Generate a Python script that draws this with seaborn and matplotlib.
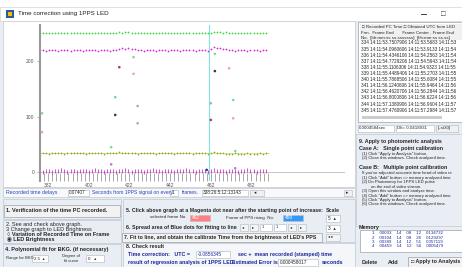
import numpy as np
import pandas as pd
import seaborn as sns
import matplotlib.pyplot as plt
from matplotlib.patches import Rectangle
from matplotlib.ticker import FixedLocator

W, H = 462, 267

# frame numbers along the video stream (one dot every 1.5 frames)
frames = np.arange(378, 490.5, 1.5)

green_row = [251, 251, 250, 251, 251, 250, 251, 251, 251, 250, 251, 251, 250, 251, 251,
             251, 250, 251, 251, 250, 251, 251, 251, 250, 251, 251, 252, 251, 253, 252,
             251, 250, 251, 251, 250, 251, 251, 250, 251, 251, 251, 250, 251, 251, 251,
             250, 251, 251, 250, 251, 251, 251, 250, 251, 251, 250, 251, 252, 253, 252,
             251, 252, 251, 250, 251, 251, 250, 251, 251, 251, 250, 251, 251, 250, 251]
magenta_row = [220, 220, 219, 220, 220, 220, 219, 220, 220, 220, 219, 220, 220, 220, 219,
               220, 220, 220, 220, 219, 220, 220, 220, 219, 220, 220, 221, 223, 222, 224,
               222, 221, 220, 220, 219, 220, 220, 220, 219, 220, 220, 220, 219, 220, 220,
               220, 219, 220, 220, 220, 220, 219, 220, 220, 220, 219, 222, 225, 223, 224,
               221, 222, 220, 220, 219, 220, 220, 220, 219, 220, 220, 220, 219, 220, 220]
yellow_row = [34, 35, 34, 33, 34, 35, 34, 34, 33, 34, 35, 34, 34, 35, 34,
              33, 34, 34, 35, 34, 34, 33, 34, 35, 34, 34, 36, 35, 34, 34,
              35, 34, 33, 34, 34, 35, 34, 34, 33, 34, 34, 35, 34, 34, 33,
              34, 35, 34, 34, 34, 33, 34, 35, 34, 34, 33, 35, 36, 34, 35,
              34, 33, 32, 33, 34, 33, 32, 33, 34, 33, 32, 33, 34, 33, 34]
bottom_row = [2, 1, 2, 2, 1, 2, 2, 3, 2, 1, 2, 2, 1, 2, 2,
              2, 1, 2, 3, 2, 2, 1, 2, 2, 2, 1, 2, 2, 3, 2,
              1, 2, 2, 2, 1, 2, 2, 3, 2, 2, 1, 2, 2, 2, 1,
              2, 2, 2, 3, 2, 2, 1, 2, 2, 2, 1, 2, 3, 2, 2,
              2, 1, 2, 2, 2, 1, 2, 2, 3, 2, 2, 1, 2, 2, 2]

# scattered points away from the rows
out_frame = [379, 379, 415, 415, 413, 413, 417, 424, 424, 426, 426,
             464, 464, 471, 462, 462, 473, 473, 474, 474, 460]
out_value = [106, 72, 135, 103, 45, 14, 189, 207, 177, 119, 88,
             213, 182, 187, 124, 94, 130, 97, 38, 7, 4]
out_kind = ["green", "pink", "teal", "dark", "green", "purple", "magenta", "green", "pink",
            "gray", "gray", "green", "dark", "pink", "gray", "magenta", "green", "pink",
            "green", "purple", "blue"]
kind_colors = {"green": "#86d886", "pink": "#f29ac0", "teal": "#6fcfb0", "dark": "#3b2d5e",
               "purple": "#b77ad6", "magenta": "#b8306e", "gray": "#aaaaaa", "blue": "#2233bb"}

selected_frame_line = 461
x_tick_labels = [382, 402, 422, 442, 462, 482]
y_tick_labels = [0, 100, 200]

table_rows = [
    "334 14:11:53.7507906 14:11:53.5683 14:11:53",
    "335 14:11:54.0960606 14:11:53.9133 14:11:54",
    "336 14:11:54.4346106 14:11:54.2563 14:11:54",
    "337 14:11:54.7729206 14:11:54.5943 14:11:54",
    "338 14:11:55.1106306 14:11:54.9323 14:11:55",
    "339 14:11:55.4489406 14:11:55.2703 14:11:55",
    "340 14:11:55.7868506 14:11:55.6084 14:11:55",
    "341 14:11:56.1240606 14:11:55.9464 14:11:56",
    "342 14:11:56.4620706 14:11:56.2844 14:11:56",
    "343 14:11:56.8000806 14:11:56.6224 14:11:56",
    "344 14:11:57.1380906 14:11:56.9604 14:11:57",
    "345 14:11:57.4760906 14:11:57.2984 14:11:57",
]
memory_rows = [
    "1    00033    14    08    12    0134732",
    "2    00104    14    08    26    0129297",
    "3    00389    14    12    51    0057119",
    "4    00459    14    12    56    0005479",
]

sns.set_style("white")
plt.rcParams["font.family"] = ["Liberation Sans", "DejaVu Sans"]

fig = plt.figure(figsize=(W / 100, H / 100), dpi=100)
fig.patch.set_facecolor("#e9eef5")


def box(x, y, w, h, fc, ec="#b9c2cc", lw=0.5):
    fig.patches.append(Rectangle((x / W, 1 - (y + h) / H), w / W, h / H, zorder=0.5,
                                 transform=fig.transFigure, fc=fc, ec=ec, lw=lw))


def txt(x, y, s, size=3.8, **kw):
    fig.text(x / W, 1 - y / H, s, fontsize=size, va="center", ha="left", **kw)


# page strip above the window and title bar
box(0, 0, W, 7, "#ffffff", ec="none")
box(0, 7, W, 14, "#ffffff", ec="#d8d8d8")
box(6, 10, 8, 8, "#2c5aa0", ec="none")
box(8, 12, 4, 4, "#f2c200", ec="none")
txt(18, 14, "Time correction using 1PPS LED", size=4.5, color="#222222")
box(421, 14, 6, 0.8, "#444444", ec="none")
txt(441, 14, "\u25a1", size=5.5, color="#333333")

# graph panel
box(3, 21, 352, 166, "#ffffff", ec="#c8c8c8")

ax = fig.add_axes([40 / W, 1 - 181 / H, 305 / W, 156 / H])
ax.set_zorder(2)
ax.set_facecolor("none")

sns.scatterplot(x=frames, y=green_row, marker="+", s=3, linewidth=0.5, color="#33dd33", ax=ax)
sns.scatterplot(x=frames, y=magenta_row, marker="+", s=3, linewidth=0.5, color="#dd22dd", ax=ax)
sns.scatterplot(x=frames, y=yellow_row, marker="+", s=3, linewidth=0.5, color="#88aa10", ax=ax)
sns.scatterplot(x=frames, y=bottom_row, marker="|", s=6, linewidth=0.6, color="#cc33cc", ax=ax)

out_df = pd.DataFrame({"frame": out_frame, "value": out_value, "kind": out_kind})
sns.scatterplot(data=out_df, x="frame", y="value", hue="kind", palette=kind_colors,
                s=3.5, linewidth=0, legend=False, ax=ax)
ax.axvline(selected_frame_line, color="#7fe3e0", lw=0.8, zorder=0)
ax.axhline(0, color="#bbbbbb", lw=0.6, zorder=0)
ax.axhline(34, xmin=0, xmax=0.75, color="#d9d98a", lw=0.5, zorder=0)

ax.set_xlabel("")
ax.set_ylabel("")
ax.set_xlim(378, 528)
ax.set_ylim(-16, 265)
for side in ["top", "right", "bottom"]:
    ax.spines[side].set_visible(False)
ax.spines["left"].set_color("#999999")
ax.spines["left"].set_linewidth(1.5)
ax.set_xticks(x_tick_labels)
ax.set_xticklabels([str(v) for v in x_tick_labels])
ax.xaxis.set_minor_locator(FixedLocator(np.arange(378, 491, 2)))
ax.tick_params(axis="x", which="both", direction="in", length=6, width=0.5,
               color="#888888", labelsize=3.6, labelcolor="#555555", bottom=True)
ax.tick_params(axis="x", which="major", pad=1.5)
ax.set_yticks(y_tick_labels)
ax.tick_params(axis="y", direction="out", length=2, width=0.5, color="#888888",
               labelsize=3.6, labelcolor="#555555", pad=2, left=True)

# scroll bar below graph
box(3, 188, 352, 9, "#f7f9fc", ec="#c8c8c8")
txt(6, 192.5, "Recorded time delays", color="#2244bb")
box(68, 189.5, 21, 6, "#ffffff")
txt(69, 192.5, "0.07407", size=3.3)
txt(92, 192.5, "Seconds from 1PPS signal on every", size=3.6, color="#2244bb")
box(170, 189.5, 8, 6, "#ffffff")
txt(172, 192.5, "1", size=3.3)
txt(182, 192.5, "frames.", size=3.6, color="#2244bb")
box(202, 189.5, 46, 6, "#ffffff")
txt(203, 192.5, "338:26:5:12:13143", size=3.3)
box(250, 189.5, 14, 6, "#f0f0f0")
txt(254, 192.5, "\u25c2", size=3.3)
box(344, 189.5, 8, 6, "#f0f0f0")
txt(346, 192.5, "\u25b8", size=3.3)

# left control panel
box(3, 199, 118, 20, "#e9eef5", ec="#c0c8d0")
box(4, 205, 116, 12, "#f2f2f2", ec="#9aa3ad")
txt(6, 211, "1. Verification of the time PC recorded.", size=4.0, weight="bold")
box(3, 220, 118, 23, "#e9eef5", ec="#c0c8d0")
txt(6, 224.5, "2. See and check above graph.", size=4.0)
txt(6, 229.5, "3 Change graph to LED Brightness", size=4.0)
txt(7, 234.5, "\u25cb Variation of Recorded Time on Frame", size=4.0, weight="bold")
txt(7, 239.5, "\u25c9 LED Brightness", size=4.0, weight="bold")
box(3, 244, 118, 23, "#e9eef5", ec="#c0c8d0")
txt(5, 249.5, "4. Polynomial fit for BKG. (if necessary)", size=4.0, weight="bold")
txt(6, 258.5, "Range for BKG", size=3.0)
box(32, 255, 16, 7, "#ffffff")
txt(34, 258.5, "2.5  \u25b4", size=3.2)
txt(62, 256, "Degree of", size=3.0)
txt(64, 261, "fit curve", size=3.0)
box(86, 255, 18, 7, "#ffffff")
txt(88, 258.5, "0   \u25b4", size=3.2)

# middle control panel
box(123, 199, 232, 43, "#e9eef5", ec="#c0c8d0")
txt(126, 210.5, "5. Click above graph at a Magenta dot near after the starting point of increase:",
    size=3.8, weight="bold")
txt(326, 210.5, "Scale", size=3.8, weight="bold")
txt(150, 217.5, "selected frame No.", size=3.2)
box(190, 214.5, 20, 6.5, "#ff8080", ec="#c0c0c0")
txt(192, 217.8, "462", size=3.4, color="#ffffff")
txt(226, 217.5, "Frame of PPS rising  No.", size=3.2)
box(283, 214.5, 20, 6.5, "#3399ff", ec="#c0c0c0")
txt(285, 217.8, "459", size=3.4, color="#ffffff")
box(326, 215, 14, 7, "#ffffff")
txt(328, 218.5, "5  \u25b4", size=3.4)
txt(126, 227, "6. Spread area of Blue dots for fitting to line", size=3.8, weight="bold")
box(240, 224, 8, 6.5, "#f4f4f4")
txt(242, 227.3, "\u25c2", size=3)
box(250, 224, 8, 6.5, "#f4f4f4")
txt(252, 227.3, "\u25b8", size=3)
box(260, 224, 12, 6.5, "#ffffff")
txt(262, 227.3, "1", size=3)
box(274, 224, 12, 6.5, "#ffffff")
txt(276, 227.3, "1", size=3)
box(288, 224, 8, 6.5, "#f4f4f4")
txt(290, 227.3, "\u25c2", size=3)
box(298, 224, 8, 6.5, "#f4f4f4")
txt(300, 227.3, "\u25b8", size=3)
box(326, 224.5, 14, 7, "#ffffff")
txt(328, 228, "3  \u25b4", size=3.4)
box(122, 232.5, 200, 9, "#f2f2f2", ec="#9aa3ad")
txt(124, 237, "7. Fit to line, and obtain the calibrate Time from the brightness of LED's PPS",
    size=3.8, weight="bold")
box(326, 233.5, 14, 7, "#f4f4f4")
txt(328, 237, "\u25c2 \u25b8", size=3)
box(123, 243, 232, 24, "#f4f6fa", ec="#c0c8d0")
txt(126, 247, "8. Check result", size=3.8, weight="bold")
txt(128, 254.5, "Time correction:   UTC =", size=3.8, color="#1a2a99", weight="bold")
box(196, 251, 34, 7, "#ffffff")
txt(198, 254.5, "-0.0856345", size=3.4, color="#1a2a99")
txt(238, 254.5, "sec +  mean recorded (stamped) time", size=3.8, color="#1a2a99", weight="bold")
txt(128, 262.5, "result of regression analysis of 1PPS LED:", size=3.8, color="#1a2a99",
    weight="bold")
txt(232, 262.5, "Estimated Error is", size=3.8, color="#1a2a99", weight="bold")
box(278, 259, 40, 7, "#ffffff")
txt(280, 262.5, "0.000458017", size=3.4)
txt(322, 262.5, "seconds", size=3.8, color="#1a2a99", weight="bold")

# right: table of recorded times
box(358, 22, 104, 100, "#ffffff", ec="#9aa3ad")
box(360, 24, 102, 16, "#f0f0f0", ec="none")
txt(362, 27, "\u25a1 Recorded PC Time \u25a1 Obtained UTC from LED", size=3.2)
txt(361, 32.5, "Frm.  Frame End       Frame Center , Frame End", size=3.2)
txt(361, 37.5, "No.  [hh:mm:ss ss.sssssss]  [hh:mm:ss ss.ss]", size=3.2)
for i, row in enumerate(table_rows):
    txt(361, 43 + i * 6.1, row, size=3.3)
box(362, 116, 80, 3, "#cccccc", ec="none")
box(358, 124.5, 36, 7, "#ffffff")
txt(359, 128, "0.0004584sec", size=3.2)
box(396, 124.5, 38, 7, "#ffffff")
txt(397, 128, "Dlt= 0.0418931", size=3.2)
box(436, 124.5, 22, 7, "#f0f0f0")
txt(438, 128, "[Lst30]", size=3.2)

# right: instructions
box(356, 134, 106, 92, "#e9eef5", ec="#c0c8d0")
txt(359, 141.5, "9. Apply to photometric analysis", size=3.9, weight="bold")
txt(359, 148.5, "Case A:   Single point calibration", size=3.9, weight="bold")
txt(362, 154, "(1) Click \"Apply to Analysis\" button.", size=3.1)
txt(362, 158.5, "(2) Close this windows. Check analyzed time.", size=3.1)
txt(359, 167.5, "Case B:   Multiple point calibration", size=3.9, weight="bold")
instructions = [
    "If you've adjusted accurate time head of video re",
    "(1) Click \"Add\" button => memory analyzed time",
    "(2) Do Photometry for 1PPS LED pulse",
    "        on the end of video stream.",
    "(3) Open this window and analyze time.",
    "(4) Click \"Add\" button => memory analyzed time",
    "(5) Click \"Apply to Analysis\" button.",
    "(6) Close this windows. Check analyzed time.",
]
for i, line in enumerate(instructions):
    txt(362, 173 + i * 4.5, line, size=3.1)
txt(359, 227, "Memory", size=3.9, weight="bold")
box(360, 230, 102, 22, "#ffffff", ec="#9aa3ad")
for i, line in enumerate(memory_rows):
    txt(372, 233.5 + i * 4.3, line, size=3.2, color="#1a2a99")
txt(362, 262, "Delete", size=3.9, weight="bold")
txt(388, 262, "Add", size=3.9, weight="bold")
box(408, 257, 54, 10, "#f2f2f2", ec="#9aa3ad")
txt(411, 262, "\u25a1 Apply to Analysis", size=3.9, weight="bold")

fig.savefig("out.png", dpi=100, facecolor=fig.get_facecolor())
